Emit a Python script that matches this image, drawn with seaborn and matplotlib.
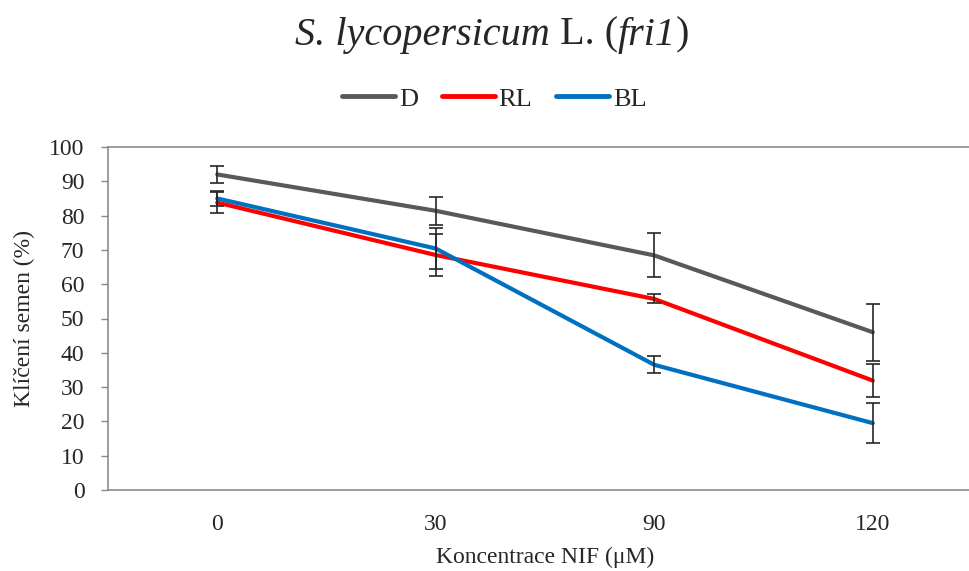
import numpy as np
import pandas as pd
import matplotlib
matplotlib.use("Agg")
import matplotlib.pyplot as plt
import seaborn as sns

# hodnoty
koncentrace = ["0", "30", "90", "120"]
serie = ["D", "RL", "BL"]
klic_D = [92.0, 81.4, 68.4, 46.0]
klic_RL = [83.8, 68.5, 55.7, 31.9]
klic_BL = [85.0, 70.4, 36.5, 19.5]
sd_D = [2.5, 4.0, 6.4, 8.3]
sd_RL = [3.0, 6.1, 1.3, 4.9]
sd_BL = [2.2, 5.9, 2.5, 5.8]
barvy = ["#595959", "#FF0000", "#0070C0"]

# titulek po částech: (text, kurzíva)
titulek = [("S. lycopersicum", True), (" L. (", False), ("fri1", True), (")", False)]

sns.set_theme(style="white")
plt.rcParams["font.family"] = ["Liberation Serif", "DejaVu Serif"]

df = pd.DataFrame({
    "Koncentrace": koncentrace * 3,
    "Klíčení": klic_D + klic_RL + klic_BL,
    "SD": sd_D + sd_RL + sd_BL,
    "Varianta": [s for s in serie for _ in koncentrace],
})

fig = plt.figure(figsize=(9.7, 5.71), dpi=100)
ax = fig.add_axes([108 / 970, 1 - 490 / 571, 874 / 970, 343 / 571])

sns.lineplot(data=df, x="Koncentrace", y="Klíčení", hue="Varianta",
             palette=barvy, linewidth=3, ax=ax, sort=False, zorder=2)

# chybové úsečky
pozice = np.arange(len(koncentrace))
for s in serie:
    d = df[df["Varianta"] == s]
    ax.errorbar(pozice, d["Klíčení"], yerr=d["SD"], fmt="none",
                ecolor="#262626", elinewidth=1.2, capsize=4.7, capthick=1.2, zorder=3)

ax.set_xlim(-0.5, 3.5)
ax.set_ylim(0, 100)
ax.set_yticks(range(0, 101, 10))
ax.set_xticks(pozice)
ax.set_xticklabels(koncentrace)
ax.set_xticks(pozice[:-1] + 0.5, minor=True)
ax.tick_params(axis="x", which="major", length=0, labelsize=17, pad=17)
ax.tick_params(axis="x", which="minor", direction="in", length=5, width=1, color="#888888")
ax.tick_params(axis="y", direction="out", length=5, width=1, color="#888888",
               labelsize=17, pad=12, left=True)
for sp in ax.spines.values():
    sp.set_color("#8c8c8c")
    sp.set_linewidth(1.2)

ax.set_xlabel("Koncentrace NIF (μM)", fontsize=17, labelpad=9)
ax.set_ylabel("Klíčení semen (%)", fontsize=17, labelpad=10)

# titulek – kurzíva jen u jmen
renderer = fig.canvas.get_renderer()
casti = []
for txt, it in titulek:
    t = fig.text(0, 0.938, txt, fontsize=29, va="center", ha="left",
                 style="italic" if it else "normal")
    casti.append(t)
sirky = [t.get_window_extent(renderer).width for t in casti]
x0 = 492 - sum(sirky) / 2
for t, w in zip(casti, sirky):
    t.set_x(x0 / 970)
    x0 += w

leg = ax.legend(loc="center", bbox_to_anchor=(0.5 - 0.058, 1.14), ncol=3, frameon=False,
                fontsize=19, handlelength=2.0, handletextpad=0.15, columnspacing=0.9)
for h in leg.get_lines():
    h.set_linewidth(3.5)
    h.set_solid_capstyle("round")

fig.savefig("out.png", dpi=100)
